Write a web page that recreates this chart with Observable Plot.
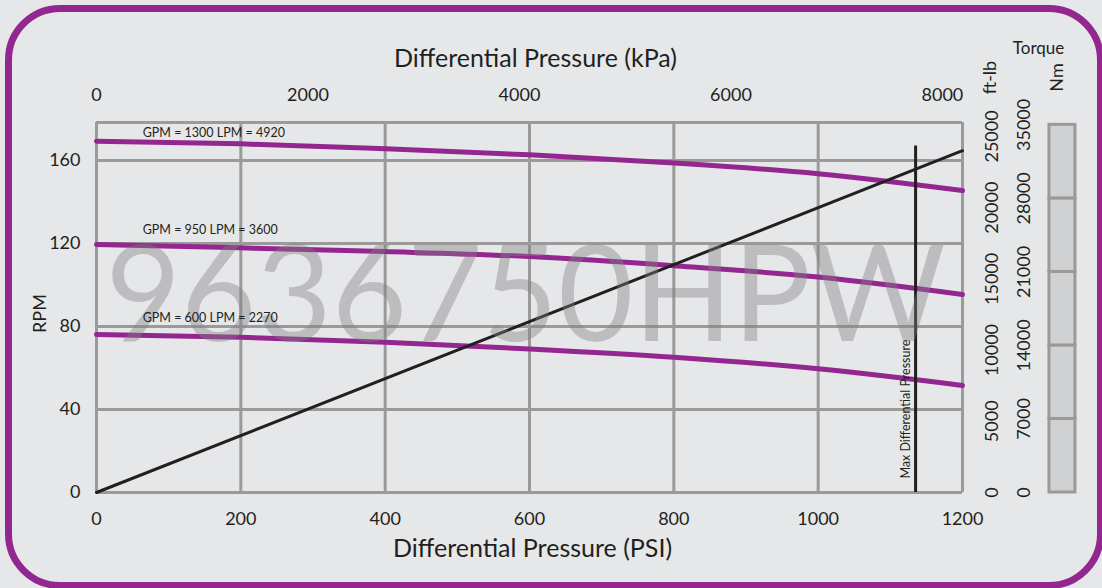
<!DOCTYPE html>
<html><head><meta charset="utf-8">
<script src="https://cdn.jsdelivr.net/npm/d3@7"></script>
<script src="https://cdn.jsdelivr.net/npm/@observablehq/plot@0.6"></script>
<style>
html,body{margin:0;padding:0;background:#e6e7e9;width:1102px;height:588px;overflow:hidden;}
#wrap{position:relative;width:1102px;height:588px;}
#chart{position:absolute;left:0;top:0;}
#border{position:absolute;left:5px;top:5px;width:1085px;height:570px;border:7px solid #92278f;border-radius:55px;pointer-events:none;}
</style></head><body><div id="wrap"><div id="chart"></div><div id="border"></div></div>
<script>
// ---- data ----
const psi = [0, 200, 400, 600, 800, 1000, 1200];
const rpm1300 = [169.3, 168.0, 165.6, 162.7, 158.8, 153.6, 145.5];
const rpm950  = [119.5, 117.9, 116.1, 113.7, 109.3, 103.8, 95.4];
const rpm600  = [76.1, 74.8, 72.4, 69.2, 65.2, 59.6, 51.6];
const curveNames = ["GPM = 1300 LPM = 4920", "GPM = 950 LPM = 3600", "GPM = 600 LPM = 2270"];
const labelRpm = [173.2, 126.6, 84.2];
const labelPsi = 64;
const torquePsi = [0, 1200];
const torqueFtlb = [0, 24000];
const maxPsi = 1135;
const maxLineTopRpm = 167;
const rpmTicks = [0, 40, 80, 120, 160];
const psiTicks = [0, 200, 400, 600, 800, 1000, 1200];
const kpaTicks = [0, 2000, 4000, 6000, 8000];
const ftlbTicks = [0, 5000, 10000, 15000, 20000, 25000];
const nmTicks = [0, 7000, 14000, 21000, 28000, 35000];
const watermark = "9636750HPW";

// ---- scale relations ----
const Y_MAX = 178.3;               // RPM at top of frame
const KPA_AT_RIGHT = 8190;         // kPa value at right edge of top axis
const PSI_PER_KPA = 1200 / KPA_AT_RIGHT;
const RPM_PER_FTLB = 171.57 / 25000;
const FTLB_PER_NM = 1 / 1.35582;
const BAR_PSI = [1320.5, 1356.5];

const series = [rpm1300, rpm950, rpm600];
const curves = series.flatMap((arr, k) => arr.map((v, i) => ({psi: psi[i], rpm: v, name: curveNames[k]})));
const labels = curveNames.map((n, k) => ({name: n, rpm: labelRpm[k], psi: labelPsi}));
const torque = torquePsi.map((p, i) => ({psi: p, ftlb: torqueFtlb[i]}));
const nmBands = nmTicks.slice(0, -1).map((v, i) => ({a: v, b: nmTicks[i + 1]}));

const ink = "#231f20", purple = "#93278f", grid = "#9a9a9a";
const FONT = "Lato, 'Open Sans', sans-serif";

const chart = Plot.plot({
  width: 1102, height: 588,
  marginLeft: 96, marginRight: 140, marginTop: 122, marginBottom: 96,
  style: {background: "transparent", color: ink, fontFamily: FONT},
  x: {domain: [0, 1200]},
  y: {domain: [0, Y_MAX]},
  marks: [
    // grid
    Plot.ruleX(psiTicks, {stroke: grid, strokeWidth: 3}),
    Plot.ruleY([...rpmTicks, Y_MAX], {stroke: grid, strokeWidth: 3}),
    // torque bar
    Plot.rect(nmBands, {x1: () => BAR_PSI[0], x2: () => BAR_PSI[1],
      y1: d => d.a * FTLB_PER_NM * RPM_PER_FTLB, y2: d => Math.min(d.b * FTLB_PER_NM * RPM_PER_FTLB, Y_MAX),
      fill: "#d0d1d3", stroke: grid, strokeWidth: 3}),
    // curves
    Plot.line(curves, {x: "psi", y: "rpm", z: "name", stroke: purple, strokeWidth: 5, curve: "monotone-x"}),
    Plot.line(torque, {x: "psi", y: d => d.ftlb * RPM_PER_FTLB, stroke: ink, strokeWidth: 3}),
    Plot.ruleX([maxPsi], {y1: 0, y2: maxLineTopRpm, stroke: ink, strokeWidth: 3}),
    // watermark
    Plot.text([watermark], {frameAnchor: "middle", text: d => d, dx: -4, dy: -9, fontSize: 134, fill: "#7f7f7f", fillOpacity: 0.4, className: "wm"}),
    // curve labels
    Plot.text(labels, {x: "psi", y: "rpm", text: "name", textAnchor: "start", fontSize: 12.5, fill: ink}),
    Plot.text(["Max Differential Pressure"], {x: () => maxPsi, y: () => 6.7, text: d => d, rotate: -90, textAnchor: "start", dx: -10, fontSize: 12.5, fill: ink}),
    // axes
    Plot.axisY(rpmTicks, {tickSize: 0, tickPadding: 16, fontSize: 18, label: null}),
    Plot.axisX(psiTicks, {tickSize: 0, tickPadding: 20, fontSize: 18, label: null, tickFormat: d => String(d)}),
    Plot.axisX(kpaTicks.map(k => k * PSI_PER_KPA), {anchor: "top", tickSize: 0, tickPadding: 22, fontSize: 18, label: null, tickFormat: d => String(Math.round(d / PSI_PER_KPA))}),
    Plot.text(ftlbTicks, {frameAnchor: "right", y: d => d * RPM_PER_FTLB, text: d => String(d), rotate: -90, textAnchor: "middle", lineAnchor: "middle", dx: 30, fontSize: 18, fill: ink}),
    Plot.text(nmTicks, {frameAnchor: "right", y: d => d * FTLB_PER_NM * RPM_PER_FTLB, text: d => String(d), rotate: -90, textAnchor: "middle", lineAnchor: "middle", dx: 62, fontSize: 18, fill: ink}),
    // titles
    Plot.text(["Differential Pressure (kPa)"], {frameAnchor: "top", text: d => d, textAnchor: "middle", lineAnchor: "middle", dx: 6, dy: -64, fontSize: 25, fill: ink}),
    Plot.text(["Differential Pressure (PSI)"], {frameAnchor: "bottom", text: d => d, textAnchor: "middle", lineAnchor: "middle", dx: 3, dy: 56, fontSize: 25, fill: ink}),
    Plot.text(["RPM"], {frameAnchor: "left", text: d => d, rotate: -90, textAnchor: "middle", lineAnchor: "middle", dx: -56, dy: 6, fontSize: 18, fill: ink}),
    Plot.text(["Torque"], {frameAnchor: "top-right", text: d => d, textAnchor: "middle", lineAnchor: "middle", dx: 76, dy: -74, fontSize: 17, fill: ink}),
    Plot.text(["ft-lb"], {frameAnchor: "top-right", text: d => d, rotate: -90, textAnchor: "middle", lineAnchor: "middle", dx: 28, dy: -45, fontSize: 18, fill: ink}),
    Plot.text(["Nm"], {frameAnchor: "top-right", text: d => d, rotate: -90, textAnchor: "middle", lineAnchor: "middle", dx: 95, dy: -45, fontSize: 18, fill: ink})
  ]
});
d3.select(chart).selectAll(".wm text").attr("textLength", 840).attr("lengthAdjust", "spacingAndGlyphs");
document.getElementById("chart").appendChild(chart);
</script></body></html>
